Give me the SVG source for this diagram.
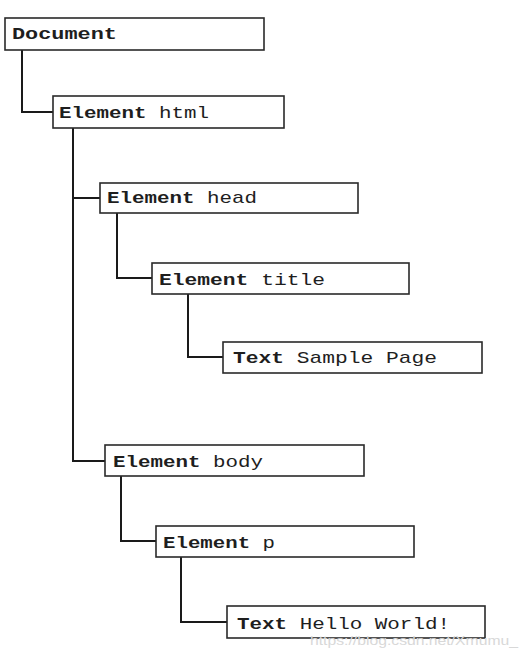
<svg xmlns="http://www.w3.org/2000/svg" width="527" height="652" viewBox="0 0 527 652">
<style>
.box{fill:#fff;stroke:#2a2a2a;stroke-width:1.6}
.lbl{font-family:"Liberation Mono","Courier New",monospace;font-size:17px;fill:#1e1e1e}
.b{font-weight:bold}
.con{fill:none;stroke:#1a1a1a;stroke-width:2}
.wm{font-family:"Liberation Sans",Arial,sans-serif;font-size:13px;fill:#d8d8d8}
</style>
<rect width="527" height="652" fill="#fff"/>
<g id="connectors">
<path class="con" d="M22 50V112H53"/>
<path class="con" d="M73 128V461H105"/>
<path class="con" d="M73 198H100"/>
<path class="con" d="M117 213V278H152"/>
<path class="con" d="M188 294V357H223"/>
<path class="con" d="M121 476V541H156"/>
<path class="con" d="M181 557V622H227"/>
</g>
<g id="document">
<rect class="box" x="5" y="18" width="259" height="32"/>
<text class="lbl" x="12" y="39" textLength="105" lengthAdjust="spacingAndGlyphs"><tspan class="b">Document</tspan></text>
</g>
<g id="html">
<rect class="box" x="53" y="96" width="231" height="32"/>
<text class="lbl" x="59" y="118" textLength="150" lengthAdjust="spacingAndGlyphs"><tspan class="b">Element</tspan> html</text>
</g>
<g id="head">
<rect class="box" x="100" y="183" width="258" height="30"/>
<text class="lbl" x="107" y="203" textLength="150" lengthAdjust="spacingAndGlyphs"><tspan class="b">Element</tspan> head</text>
</g>
<g id="title">
<rect class="box" x="152" y="263" width="257" height="31"/>
<text class="lbl" x="159" y="285" textLength="166" lengthAdjust="spacingAndGlyphs"><tspan class="b">Element</tspan> title</text>
</g>
<g id="text-sample">
<rect class="box" x="223" y="342" width="259" height="31"/>
<text class="lbl" x="233" y="363" textLength="204" lengthAdjust="spacingAndGlyphs"><tspan class="b">Text</tspan> Sample Page</text>
</g>
<g id="body">
<rect class="box" x="105" y="445" width="259" height="31"/>
<text class="lbl" x="113" y="467" textLength="150" lengthAdjust="spacingAndGlyphs"><tspan class="b">Element</tspan> body</text>
</g>
<g id="p">
<rect class="box" x="156" y="526" width="258" height="31"/>
<text class="lbl" x="163" y="548" textLength="112" lengthAdjust="spacingAndGlyphs"><tspan class="b">Element</tspan> p</text>
</g>
<g id="text-hello">
<rect class="box" x="227" y="606" width="258" height="32"/>
<text class="lbl" x="237" y="629" textLength="213" lengthAdjust="spacingAndGlyphs"><tspan class="b">Text</tspan> Hello World!</text>
</g>
<text class="wm" x="310" y="645" textLength="208" lengthAdjust="spacingAndGlyphs">https://blog.csdn.net/Xmumu_</text>
</svg>
